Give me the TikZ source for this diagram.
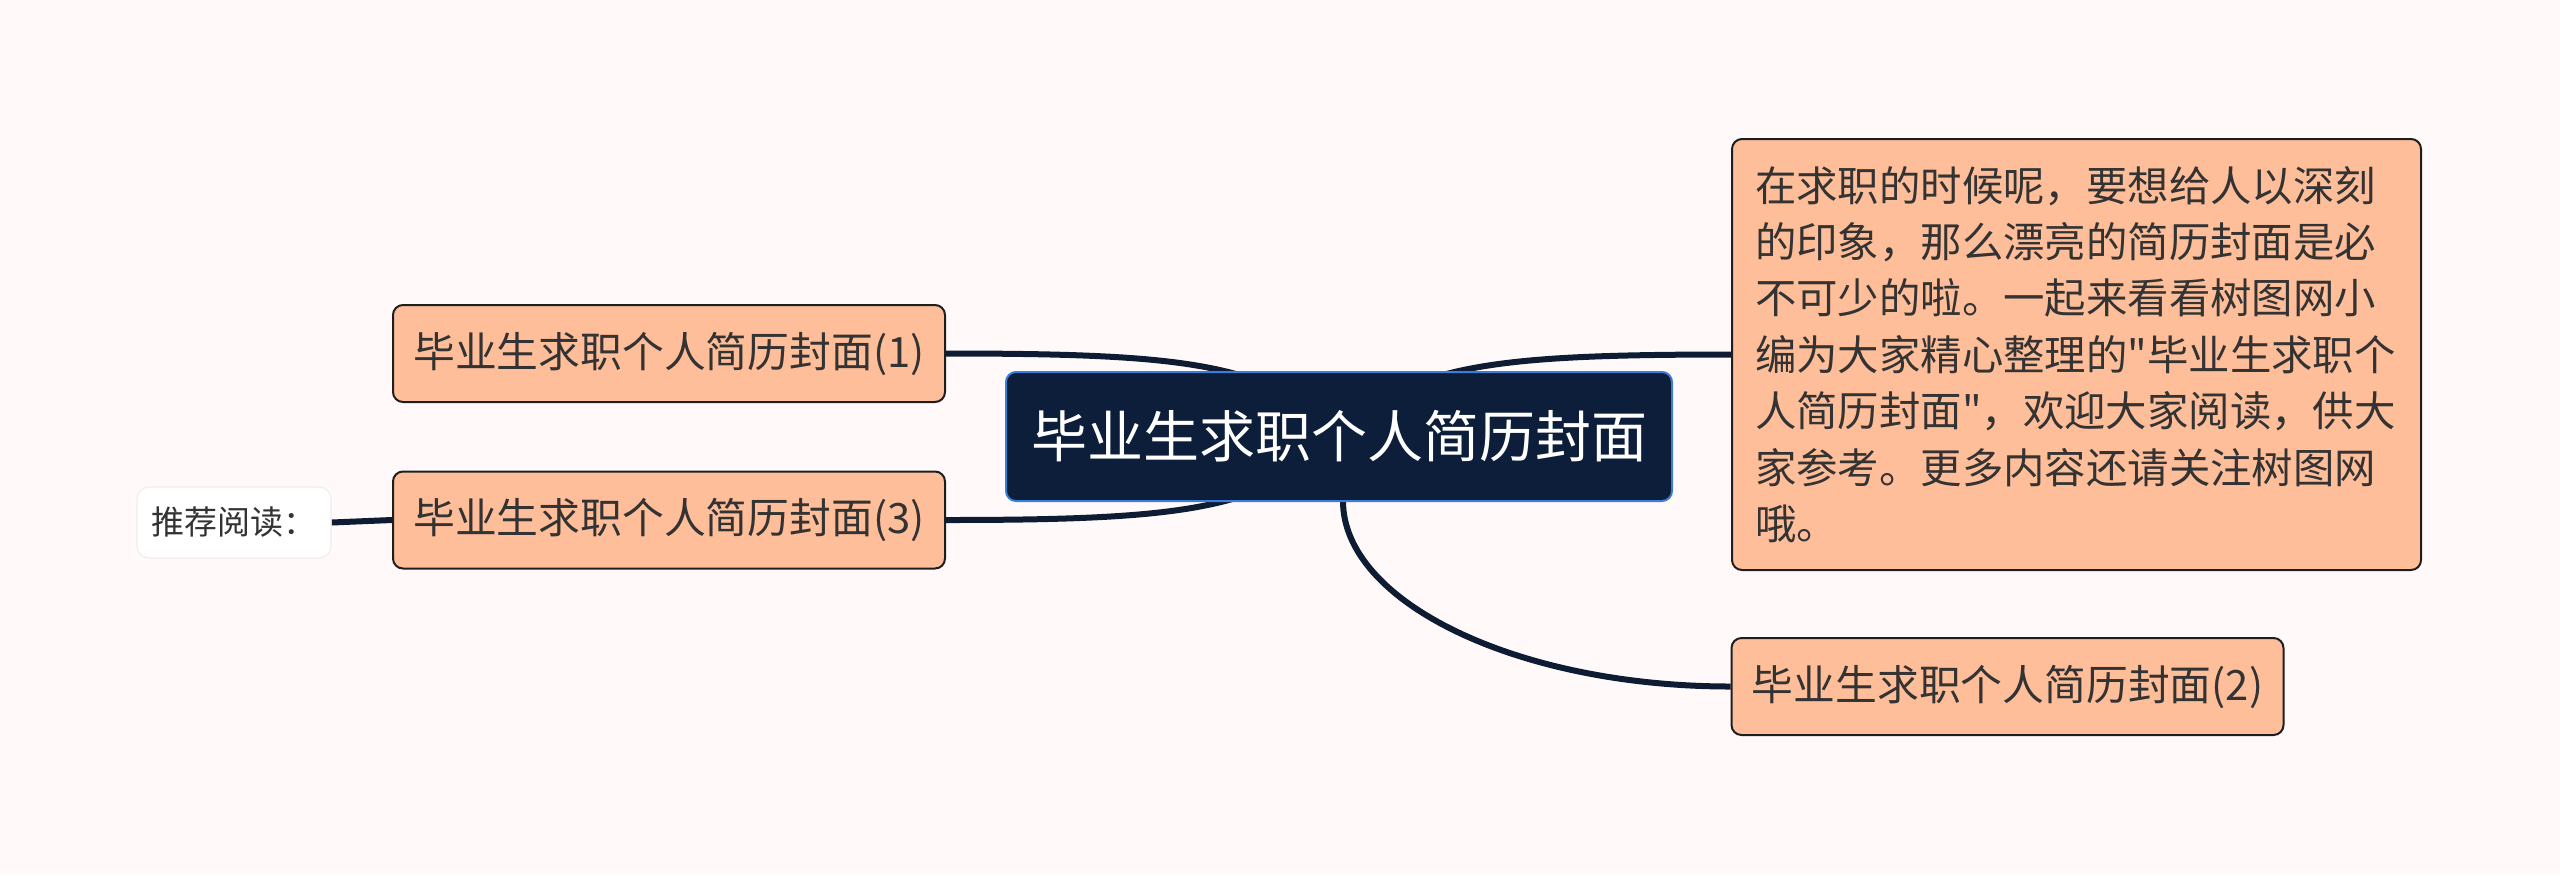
\documentclass[tikz,border=0pt]{standalone}
\usepackage{fontspec}
\newfontfamily\cjk{Noto Sans CJK SC}
\definecolor{bgcol}{HTML}{FFFAF9}
\definecolor{leaffill}{HTML}{FFBE9A}
\definecolor{leafborder}{HTML}{1E1E1E}
\definecolor{leaftext}{HTML}{333333}
\definecolor{rootfill}{HTML}{0C1E3A}
\definecolor{rootborder}{HTML}{3B7DD8}
\definecolor{linkcol}{HTML}{0D1B33}
\definecolor{recborder}{HTML}{F3ECEB}
\pgfdeclarelayer{background}
\pgfsetlayers{background,main}
\begin{document}
\begin{tikzpicture}[x=0.5pt,y=-0.5pt,
  leaf/.style={draw=leafborder, line width=1pt, fill=leaffill, rounded corners=5pt,
    text=leaftext, font=\cjk\fontsize{20.9}{25}\selectfont,
    minimum width=276pt, minimum height=48.5pt, inner sep=0pt},
  rootbox/.style={draw=rootborder, line width=1pt, fill=rootfill, rounded corners=5pt,
    text=white, font=\cjk\fontsize{28}{33}\selectfont,
    minimum width=333pt, minimum height=64.5pt, inner sep=0pt},
  notebox/.style={draw=leafborder, line width=1pt, fill=leaffill, rounded corners=5pt,
    text=leaftext, font=\cjk\fontsize{20.7}{28.2}\selectfont,
    text width=321.5pt, align=left, inner xsep=11.5pt, inner ysep=0pt,
    minimum height=215.5pt},
  recbox/.style={draw=recborder, line width=0.6pt, fill=white, rounded corners=6pt,
    text=leaftext, font=\cjk\fontsize{16.5}{20}\selectfont,
    minimum width=97pt, minimum height=35.5pt, inner sep=0pt},
  link/.style={draw=linkcol, line width=3pt},
]
\begin{pgfonlayer}{background}
\fill[bgcol] (0,0) rectangle (2560,875);
\end{pgfonlayer}
\useasboundingbox (0,0) rectangle (2560,875);

\node[rootbox] (root) at (1339,436.5) {毕业生求职个人简历封面};
\node[leaf] (n1) at (669,353.5) {毕业生求职个人简历封面(1)};
\node[leaf] (n3) at (669,520) {毕业生求职个人简历封面(3)};
\node[leaf] (n2) at (2007.5,686.5) {毕业生求职个人简历封面(2)};
\node[notebox] (note) at (2076.5,354.5) {在求职的时候呢，要想给人以深刻\\的印象，那么漂亮的简历封面是必\\不可少的啦。一起来看看树图网小\\编为大家精心整理的"毕业生求职个\\人简历封面"，欢迎大家阅读，供大\\家参考。更多内容还请关注树图网\\哦。};
\node[recbox] (rec) at (234,522.5) {推荐阅读：};

\coordinate (e1) at (1300,400);
\coordinate (e3) at (1300,470);
\coordinate (en) at (1380,400);
\coordinate (s2) at (1343,470);
\coordinate (b2) at (1343,501);

\begin{pgfonlayer}{background}
\draw[link] (n1.east) .. controls (1150,353.5) and (1230,361) .. (e1);
\draw[link] (n3.east) .. controls (1150,520) and (1230,512) .. (e3);
\draw[link] (note.west) .. controls (1530,354.5) and (1450,362) .. (en);
\draw[link] (s2) -- (b2) .. controls (1343,602) and (1517,686.5) .. (n2.west);
\draw[link] (rec.east) -- (n3.west);
\end{pgfonlayer}
\end{tikzpicture}
\end{document}
